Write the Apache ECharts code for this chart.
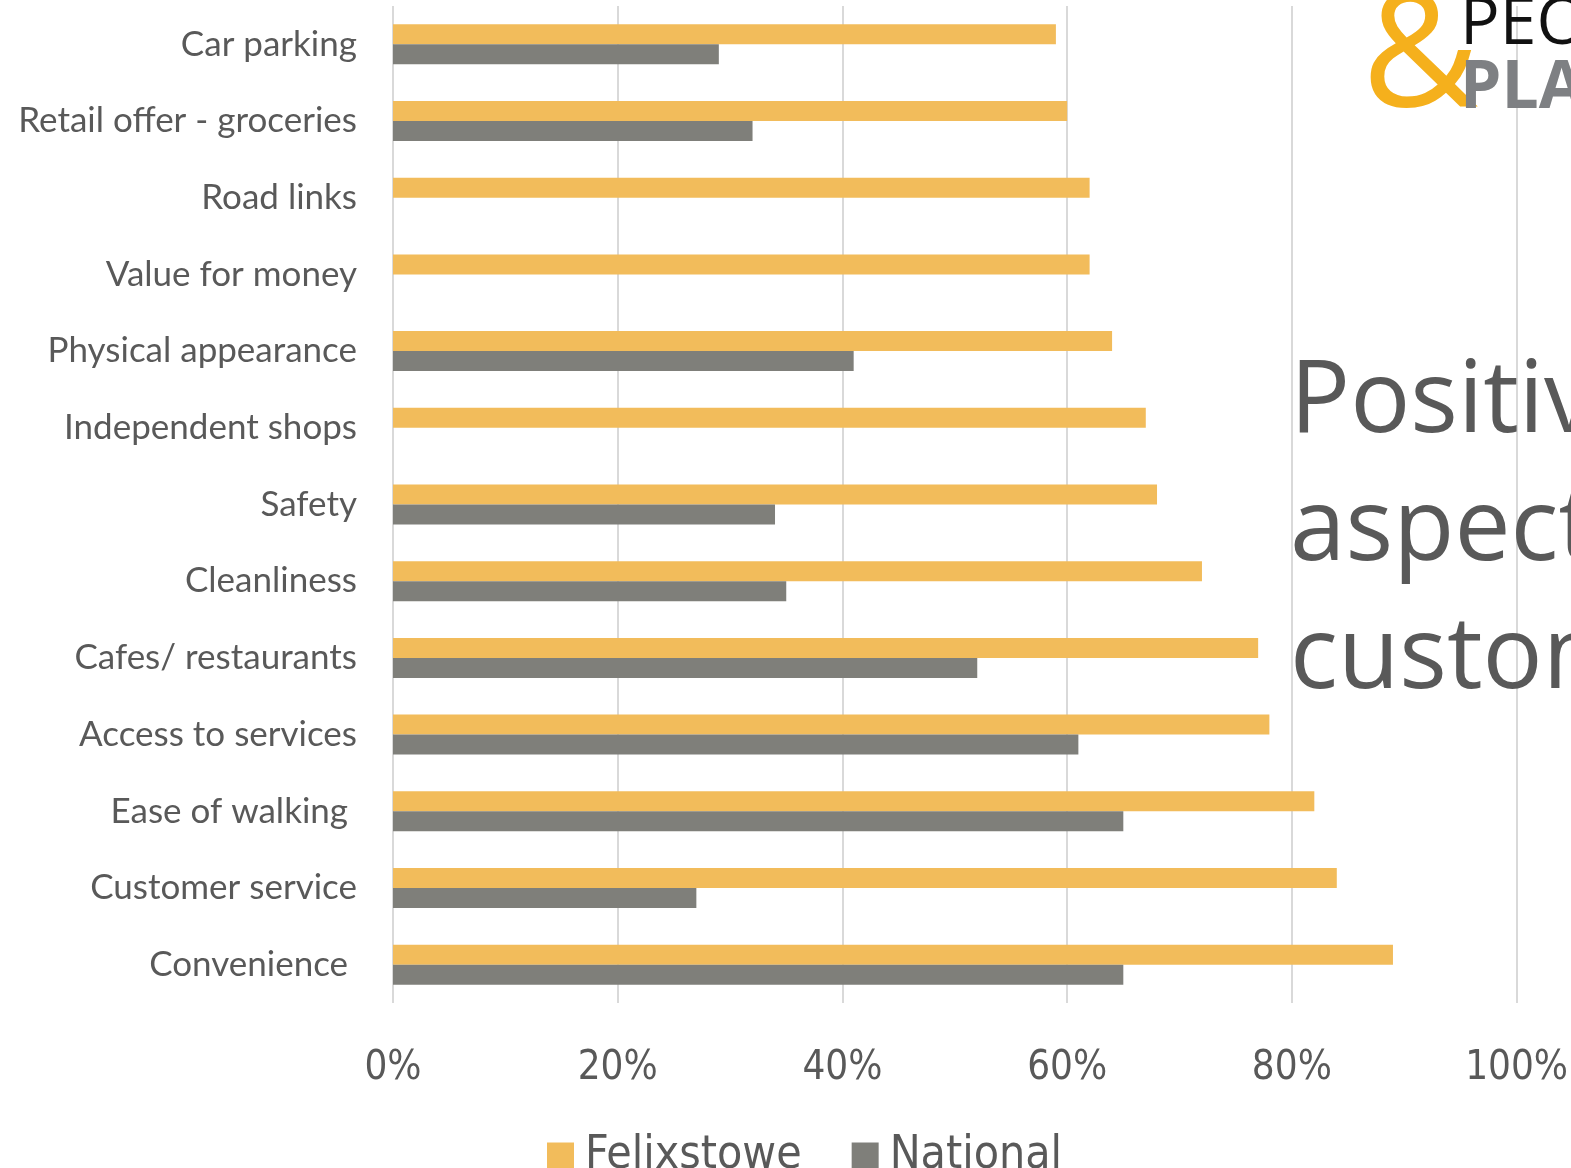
<!DOCTYPE html>
<html>
<head>
<meta charset="utf-8">
<title>Positive aspects for customers</title>
<script src="https://cdn.jsdelivr.net/npm/echarts@6/dist/echarts.min.js"></script>
<style>
  html, body { margin: 0; padding: 0; background: #ffffff; overflow: hidden; }
  #chart { width: 1571px; height: 1168px; }
</style>
</head>
<body>
<div id="chart"></div>
<script>
// Survey aspects, listed top to bottom
const categories = [
  'Car parking',
  'Retail offer - groceries',
  'Road links',
  'Value for money',
  'Physical appearance',
  'Independent shops',
  'Safety',
  'Cleanliness',
  'Cafes/ restaurants',
  'Access to services',
  'Ease of walking ',
  'Customer service',
  'Convenience '
];

// Share of respondents rating each aspect positively (%)
const felixstowe = [59, 60, 62, 62, 64, 67, 68, 72, 77, 78, 82, 84, 89];
const national   = [29, 32, null, null, 41, null, 34, 35, 52, 61, 65, 27, 65];

const seriesNames = ['Felixstowe', 'National'];
const axisTicks = { min: 0, max: 100, interval: 20 };

const TEXT = '#595959';
const FONT = 'Lato, "Open Sans", sans-serif';
const NARROW = '"Liberation Sans Narrow", "DejaVu Sans Condensed", sans-serif';

const chart = echarts.init(document.getElementById('chart'), null, { renderer: 'canvas' });

chart.setOption({
  backgroundColor: '#ffffff',
  animation: false,
  grid: { left: 393, right: 54, top: 6, bottom: 165, containLabel: false },
  legend: {
    data: seriesNames,
    left: 542,
    top: 1128,
    itemWidth: 27,
    itemHeight: 27,
    itemGap: 50,
    icon: 'rect',
    textStyle: { color: TEXT, fontSize: 46, fontFamily: NARROW, padding: [0, 0, 0, 6] }
  },
  xAxis: {
    type: 'value',
    min: axisTicks.min,
    max: axisTicks.max,
    interval: axisTicks.interval,
    axisLine: { show: false },
    axisTick: { show: false },
    splitLine: { show: true, lineStyle: { color: '#d9d9d9', width: 2 } },
    axisLabel: {
      color: TEXT,
      fontSize: 40,
      fontFamily: NARROW,
      margin: 46,
      formatter: v => v + '%'
    }
  },
  yAxis: {
    type: 'category',
    data: categories,
    inverse: true,
    axisLine: { show: false },
    axisTick: { show: false },
    splitLine: { show: false },
    axisLabel: {
      color: TEXT,
      fontSize: 35,
      fontFamily: FONT,
      margin: 36
    }
  },
  series: [
    {
      name: seriesNames[0],
      type: 'bar',
      data: felixstowe,
      barWidth: 20,
      barGap: '0%',
      itemStyle: { color: '#f2bc5b' }
    },
    {
      name: seriesNames[1],
      type: 'bar',
      data: national,
      barWidth: 20,
      barGap: '0%',
      itemStyle: { color: '#7f7f7a' }
    }
  ],
  graphic: [
    // Slide heading running off the right edge
    {
      type: 'text',
      left: 1290,
      top: 340,
      style: {
        text: 'Positive\naspects\ncustomers',
        fill: TEXT,
        font: '100px "Open Sans", sans-serif',
        lineHeight: 128
      },
      z: 10
    },
    // Company logo, top right corner
    {
      type: 'text',
      left: 1362,
      top: -20,
      style: { text: '&', fill: '#f5b01c', font: '160px "Open Sans", sans-serif' },
      z: 10
    },
    {
      type: 'text',
      left: 1460,
      top: -8,
      style: { text: 'PEOPLE', fill: '#111111', font: '66px "Open Sans", sans-serif' },
      z: 11
    },
    {
      type: 'text',
      left: 1460,
      top: 56,
      style: { text: 'PLACES', fill: '#7e8083', font: 'bold 66px "Open Sans", sans-serif' },
      z: 11
    }
  ]
});
</script>
</body>
</html>
